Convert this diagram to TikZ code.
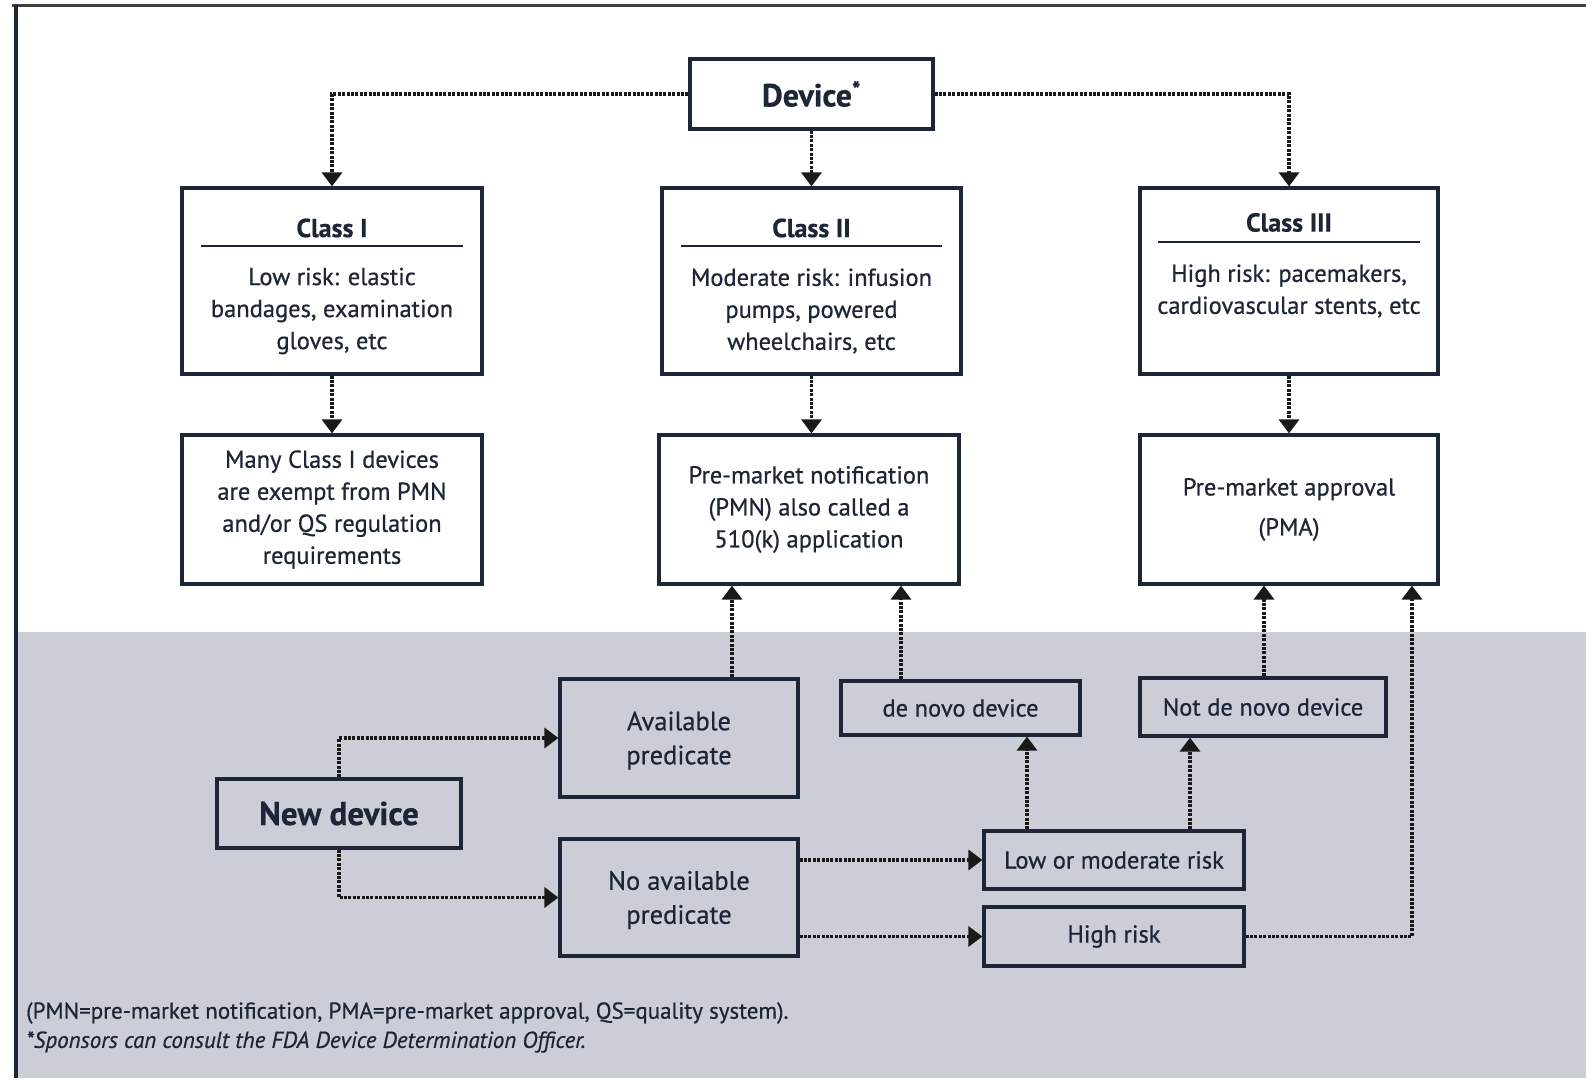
\documentclass[tikz,border=0pt]{standalone}
\usepackage{fontspec}
\setmainfont{PT Sans}[FakeBold=0.6]
\usetikzlibrary{arrows.meta}
\definecolor{ink}{RGB}{28,38,54}
\definecolor{band}{RGB}{203,206,214}
\definecolor{topline}{RGB}{64,64,64}
\definecolor{dots}{RGB}{25,25,25}
\begin{document}
\begin{tikzpicture}[x=1pt,y=-1pt,
  box/.style={draw=ink, line width=3.2pt, inner sep=0pt, text=ink, align=center},
  wbox/.style={box, fill=white},
  conn/.style={draw=dots, line width=3.4pt, dash pattern=on 3pt off 1.4pt,
               -{Triangle[width=20pt,length=14pt]}},
  body/.style={font=\fontsize{24.5}{32}\selectfont},
  txt/.style={text=ink, align=center, inner sep=0pt},
  ttl/.style={txt, font=\fontsize{26}{30}\selectfont\bfseries}]
\useasboundingbox (0,0) rectangle (1586,1078);
\fill[white] (0,0) rectangle (1586,1078);
\fill[band] (17,632) rectangle (1586,1078);
\fill[topline] (12,4) rectangle (1586,7.5);
\fill[ink] (14,5) rectangle (17.5,1078);

% top row
\node[wbox, minimum width=243pt, minimum height=70pt, font=\fontsize{32}{34}\selectfont\bfseries] (dev) at (811.5,94) {Device\textsuperscript{*}};

\node[wbox, minimum width=300pt, minimum height=186pt] (c1) at (332,281) {};
\node[wbox, minimum width=299pt, minimum height=186pt] (c2) at (811.5,281) {};
\node[wbox, minimum width=298pt, minimum height=186pt] (c3) at (1289,281) {};

\node[ttl] (t1) at (332,228) {Class I};
\node[ttl] (t2) at (811.5,228) {Class II};
\node[ttl] (t3) at (1289,222.5) {Class III};
\draw[ink, line width=1.5pt] (201,246) -- (463,246);
\draw[ink, line width=1.5pt] (681,246) -- (942,246);
\draw[ink, line width=1.5pt] (1158,242) -- (1420,242);

\node[txt, body] (b1) at (332,311) {Low risk: elastic\\bandages, examination\\gloves, etc};
\node[txt, body] (b2) at (811.5,311) {Moderate risk: infusion\\pumps, powered\\wheelchairs, etc};
\node[txt, body] (b3) at (1289,291) {High risk: pacemakers,\\cardiovascular stents, etc};

% second row
\node[wbox, body, minimum width=300pt, minimum height=149pt] (m1) at (332,509.5)
  {Many Class I devices\\are exempt from PMN\\and/or QS regulation\\requirements};
\node[wbox, body, minimum width=300pt, minimum height=149pt] (pmn) at (809,509.5)
  {Pre-market notification\\(PMN) also called a\\510(k) application};
\node[wbox, font=\fontsize{24.5}{40}\selectfont, minimum width=298pt, minimum height=149pt] (pma) at (1289,509.5)
  {Pre-market approval\\(PMA)};

% lower region
\node[box, font=\fontsize{26.5}{34}\selectfont, minimum width=238pt, minimum height=118pt] (avail) at (679,738) {\strut Available\\predicate};
\node[box, font=\fontsize{26.5}{34}\selectfont, minimum width=238pt, minimum height=117pt] (noavail) at (679,897.5) {\strut No available\\predicate};
\node[box, font=\fontsize{33}{34}\selectfont\bfseries, minimum width=244pt, minimum height=69pt] (newd) at (339,813.5) {New device};
\node[box, body, minimum width=239pt, minimum height=54pt] (denovo) at (960.5,708) {de novo device};
\node[box, body, minimum width=246pt, minimum height=58pt] (notdn) at (1263,707) {Not de novo device};
\node[box, body, minimum width=260pt, minimum height=58pt] (low) at (1114,860) {Low or moderate risk};
\node[box, body, minimum width=260pt, minimum height=59pt] (high) at (1114,936.5) {High risk};

% footnotes
\node[txt, anchor=west, font=\fontsize{23}{24}\selectfont] (fn1) at (26,1013)
  {(PMN=pre-market notification, PMA=pre-market approval, QS=quality system).};
\node[txt, anchor=west, font=\fontsize{23}{24}\selectfont\itshape] (fn2) at (26,1042)
  {*Sponsors can consult the FDA Device Determination Officer.};

% connectors
\draw[conn] (dev.west) -| (c1.north);
\draw[conn] (dev.south) -- (c2.north);
\draw[conn] (dev.east) -| (c3.north);
\draw[conn] (c1.south) -- (m1.north);
\draw[conn] (c2.south) -- (c2.south |- pmn.north);
\draw[conn] (c3.south) -- (pma.north);

\draw[conn] (avail.north -| 732,0) -- (pmn.south -| 732,0);
\draw[conn] (denovo.north -| 901,0) -- (pmn.south -| 901,0);
\draw[conn] (notdn.north -| 1264,0) -- (pma.south -| 1264,0);
\draw[conn] (high.east) -| (pma.south -| 1412,0);
\draw[conn] (low.north -| 1027,0) -- (denovo.south -| 1027,0);
\draw[conn] (low.north -| 1190,0) -- (notdn.south -| 1190,0);

\draw[conn] (newd.north) |- (avail.west);
\draw[conn] (newd.south) |- (noavail.west);
\draw[conn] (noavail.east |- low.west) -- (low.west);
\draw[conn] (noavail.east |- high.west) -- (high.west);
\end{tikzpicture}
\end{document}
